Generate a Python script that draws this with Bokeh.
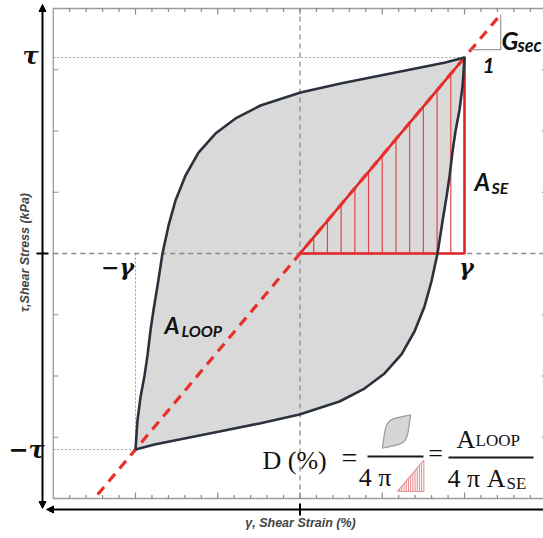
import numpy as np
from bokeh.plotting import figure
from bokeh.models import Label, Arrow, NormalHead, Range1d
from bokeh.embed import file_html
from bokeh.resources import INLINE

# ---------------- data (normalised: gamma amplitude = 1, tau amplitude = 1) ----------------
gamma_amp = 1.0
tau_amp = 1.0
# upper (loading) branch of the hysteresis loop; lower branch is point-symmetric
loop_gamma_upper = [-1.000, -0.988, -0.970, -0.945, -0.927, -0.909, -0.891, -0.866, -0.836, -0.799,
                    -0.757, -0.696, -0.617, -0.514, -0.392, -0.240, 0.003, 0.246, 0.489, 0.733,
                    0.884, 1.000]
loop_tau_upper = [-1.000, -0.852, -0.735, -0.622, -0.520, -0.393, -0.291, -0.163, 0.000, 0.143,
                  0.270, 0.398, 0.515, 0.612, 0.689, 0.755, 0.821, 0.867, 0.908, 0.949,
                  0.974, 1.000]
hatch_divisions = 12
frame_gamma = [-1.5, 1.5]
frame_tau = [-1.25, 1.25]
gamma_tick_step = 0.1
tau_ticks = [-0.9375, -0.625, -0.3125, 0.0, 0.3125, 0.625, 0.9375]
secant_extent = [-1.23, 1.225]
secant_triangle = [1.04, 1.22]

W, H = 543, 538
X0, X1 = -1.8207, 1.4802
Y0, Y1 = -1.4541, 1.2908
PXX = W / (X1 - X0)   # px per gamma unit
PXY = H / (Y1 - Y0)   # px per tau unit


def gx(px):
    return X0 + px / PXX


def ty(py):
    return Y1 - py / PXY


p = figure(width=W, height=H, x_range=Range1d(X0, X1), y_range=Range1d(Y0, Y1),
           output_backend="svg", toolbar_location=None, min_border=0,
           x_axis_type=None, y_axis_type=None)
p.grid.visible = False
p.outline_line_color = None
p.background_fill_color = "white"

# ---------------- inner frame with inward ticks ----------------
p.quad(left=frame_gamma[0], right=frame_gamma[1], bottom=frame_tau[0], top=frame_tau[1],
       fill_color=None, line_color="#9a9a9a", line_width=1.3)
gt = np.round(np.arange(frame_gamma[0] + gamma_tick_step, frame_gamma[1] - 1e-9, gamma_tick_step), 3)
major = np.abs(gt / 0.5 - np.round(gt / 0.5)) < 1e-6
tl = np.where(major, 6.0, 3.5) / PXY
p.segment(x0=gt, y0=frame_tau[1], x1=gt, y1=frame_tau[1] - tl, line_color="#8a8a8a", line_width=1.2)
p.segment(x0=gt, y0=frame_tau[0], x1=gt, y1=frame_tau[0] + tl, line_color="#8a8a8a", line_width=1.2)
tt = np.array(tau_ticks)
p.segment(x0=frame_gamma[0], y0=tt, x1=frame_gamma[0] + 5 / PXX, y1=tt, line_color="#8a8a8a", line_width=1.2)
p.segment(x0=frame_gamma[1], y0=tt, x1=frame_gamma[1] - 5 / PXX, y1=tt, line_color="#8a8a8a", line_width=1.2)

# ---------------- dotted guide lines ----------------
p.line([frame_gamma[0], gamma_amp], [tau_amp, tau_amp], line_color="#9a9a9a", line_width=1, line_dash="2 2")
p.line([frame_gamma[0], -gamma_amp], [-tau_amp, -tau_amp], line_color="#9a9a9a", line_width=1, line_dash="2 2")
p.line([-gamma_amp, -gamma_amp], [0, -tau_amp], line_color="#9a9a9a", line_width=1, line_dash="2 2")

# ---------------- loop ----------------
ug = np.array(loop_gamma_upper) * gamma_amp
ut = np.array(loop_tau_upper) * tau_amp
lg, lt = -ug, -ut
loop_x = np.concatenate([ug, lg[1:]])
loop_y = np.concatenate([ut, lt[1:]])
p.patch(loop_x, loop_y, fill_color="#d9d9d9", line_color=None)

# gray dashed origin axes
p.line([0, 0], frame_tau, line_color="#8c8c8c", line_width=1.3, line_dash="5 4")
p.line(frame_gamma, [0, 0], line_color="#8c8c8c", line_width=1.3, line_dash="5 4")

# ---------------- elastic energy triangle with hatching ----------------
hx = np.arange(1, hatch_divisions) / hatch_divisions * gamma_amp
p.segment(x0=hx, y0=0, x1=hx, y1=hx * tau_amp / gamma_amp, line_color="#e04848", line_width=1.2)
p.line([0, gamma_amp, gamma_amp, 0], [0, 0, tau_amp, 0], line_color="#e02424", line_width=2.6)

# secant line
p.line(secant_extent, secant_extent, line_color="#e8302a", line_width=3.2, line_dash="10 7")

# loop outline
p.line(np.append(loop_x, loop_x[0]), np.append(loop_y, loop_y[0]), line_color="#2b323d",
       line_width=2.6, line_join="round")

# secant slope triangle
p.line([secant_triangle[0], secant_triangle[1], secant_triangle[1]],
       [secant_triangle[0], secant_triangle[0], secant_triangle[1]], line_color="#9a9a9a", line_width=1.2)

# ---------------- outer black axes ----------------
ax_g = gx(42)
ax_t = ty(509)
p.add_layout(Arrow(start=NormalHead(size=7, fill_color="black", line_color="black"),
                   end=NormalHead(size=7, fill_color="black", line_color="black"),
                   x_start=ax_g, y_start=ty(508), x_end=ax_g, y_end=ty(4), line_width=2, line_color="black"))
p.add_layout(Arrow(end=NormalHead(size=7, fill_color="black", line_color="black"),
                   x_start=X1 + 0.2, y_start=ax_t, x_end=gx(46), y_end=ax_t, line_width=2, line_color="black"))
p.segment(x0=[0], y0=[ax_t - 6 / PXY], x1=[0], y1=[ax_t + 6 / PXY], line_color="black", line_width=2)
p.segment(x0=[ax_g - 6 / PXX], y0=[0], x1=[ax_g + 6 / PXX], y1=[0], line_color="black", line_width=2)

# ---------------- small icons in formula ----------------
leaf_c = (gx(396), ty(431))
leaf_s = 0.085
p.patch(leaf_c[0] + loop_x * leaf_s, leaf_c[1] + loop_y * leaf_s, fill_color="#d6d6d6",
        line_color="#9a9a9a", line_width=1.2)
tri_o = (gx(397), ty(491))
tri_s = 0.16
p.segment(x0=tri_o[0] + hx * tri_s, y0=tri_o[1], x1=tri_o[0] + hx * tri_s, y1=tri_o[1] + hx * tri_s,
          line_color="#e88a8a", line_width=1)
p.line(tri_o[0] + np.array([0, 1, 1, 0]) * tri_s, tri_o[1] + np.array([0, 0, 1, 0]) * tri_s,
       line_color="#e89a9a", line_width=1.2)
# fraction bars
p.line([gx(367), gx(423)], [ty(456), ty(456)], line_color="#1a1a1a", line_width=2)
p.line([gx(448), gx(533)], [ty(457), ty(457)], line_color="#1a1a1a", line_width=2)


# ---------------- text ----------------
def lab(px, py, text, size, font="Lato", style="bold italic", align="left", baseline="alphabetic",
        color="#111111", angle=0.0):
    p.add_layout(Label(x=gx(px), y=ty(py), text=text, text_font=font, text_font_style=style,
                       text_font_size=f"{size}px", text_align=align, text_baseline=baseline,
                       text_color=color, angle=angle))


greek = "DejaVu Serif"
lab(30, 55, "τ", 24, font=greek, align="center", baseline="middle")
lab(26, 449, "−τ", 24, font=greek, align="center", baseline="middle")
lab(117, 266, "−γ", 22, font=greek, align="center", baseline="middle")
lab(466, 266, "γ", 22, font=greek, align="center", baseline="middle")

lab(488, 65, "1", 21, align="center")
lab(501, 39, "G", 25)
lab(517, 44, "sec", 18)
lab(474, 181, "A", 24)
lab(491, 187, "SE", 16)
lab(164, 324, "A", 23)
lab(181, 330, "LOOP", 16)

lab(24, 252, "τ,Shear Stress (kPa)", 12.5, font="Liberation Sans", align="center", baseline="middle",
    color="#444444", angle=np.pi / 2)
lab(300, 522, "γ, Shear Strain (%)", 12.5, font="Liberation Sans", align="center", baseline="middle",
    color="#444444")

serif = "Liberation Serif"
lab(262, 460, "D (%)", 26, font=serif, style="normal")
lab(349, 457, "=", 28, font=serif, style="normal", align="center", baseline="middle")
lab(391, 477, "4 π", 26, font=serif, style="normal", align="right")
lab(435, 453, "=", 26, font=serif, style="normal", align="center", baseline="middle")
lab(456, 439, "A", 26, font=serif, style="normal")
lab(475, 440, "LOOP", 17, font=serif, style="normal")
lab(447, 478, "4 π A", 26, font=serif, style="normal")
lab(506, 483, "SE", 17, font=serif, style="normal")

open("out.html", "w").write(file_html(p, INLINE))
